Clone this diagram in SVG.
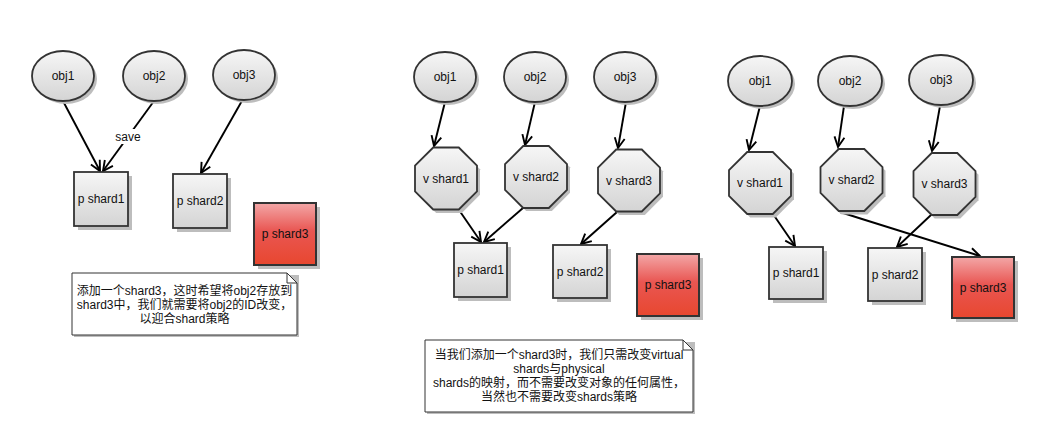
<svg xmlns="http://www.w3.org/2000/svg" width="1063" height="440" viewBox="0 0 1063 440">
<defs>
<linearGradient id="gg" x1="0" y1="0" x2="0" y2="1"><stop offset="0" stop-color="#f6f6f6"/><stop offset="1" stop-color="#d4d4d4"/></linearGradient>
<linearGradient id="rg" x1="0" y1="0" x2="0" y2="1"><stop offset="0" stop-color="#f3a7a7"/><stop offset="0.45" stop-color="#e95652"/><stop offset="1" stop-color="#e8472f"/></linearGradient>
<marker id="ar" viewBox="-11 -7 13 14" markerWidth="13" markerHeight="14" refX="0" refY="0" orient="auto" markerUnits="userSpaceOnUse"><path d="M-10,-5 L0,0 L-10,5" fill="none" stroke="#000" stroke-width="1.9"/></marker>
<polygon id="oct" points="-12.8,-31 12.8,-31 31,-12.8 31,12.8 12.8,31 -12.8,31 -31,12.8 -31,-12.8"/>
</defs>
<style>
.n{fill:url(#gg);stroke:#333;stroke-width:1.8}
.r{fill:url(#rg);stroke:#333;stroke-width:2}
.sh{fill:#bdbdbd;stroke:none}
.t{font-family:"Liberation Sans","Noto Sans CJK SC",sans-serif;font-size:12px;fill:#111;text-anchor:middle}
.e{fill:none;stroke:#000;stroke-width:1.9;marker-end:url(#ar)}
.note{fill:#fff;stroke:#333;stroke-width:1}
</style>
<rect width="1063" height="440" fill="#fff"/>

<g id="connectors">
<line class="e" x1="63" y1="101" x2="100" y2="171"/>
<line class="e" x1="154" y1="101" x2="103" y2="171"/>
<line class="e" x1="243" y1="99" x2="201" y2="173"/>
<line class="e" x1="445" y1="102" x2="434" y2="146"/>
<line class="e" x1="535" y1="102" x2="525" y2="145"/>
<line class="e" x1="626" y1="102" x2="618" y2="148"/>
<line class="e" x1="459" y1="210" x2="481" y2="242"/>
<line class="e" x1="523" y1="208" x2="484" y2="242"/>
<line class="e" x1="617" y1="212" x2="581" y2="244"/>
<line class="e" x1="760" y1="106" x2="749" y2="150"/>
<line class="e" x1="844" y1="106" x2="838" y2="147"/>
<line class="e" x1="940" y1="106" x2="932" y2="151"/>
<line class="e" x1="773" y1="214" x2="795" y2="246"/>
<polyline class="e" points="840,212 862,219 980,256"/>
<line class="e" x1="931" y1="215" x2="897" y2="247"/>
<rect x="114" y="129" width="28" height="15" fill="#fff"/>
<text class="t" x="128" y="141">save</text>
</g>

<g id="l-obj1"><ellipse class="sh" cx="66" cy="79" rx="31" ry="25"/><ellipse class="n" cx="63" cy="76" rx="31" ry="25"/><text class="t" x="63" y="80">obj1</text></g>
<g id="l-obj2"><ellipse class="sh" cx="157" cy="79" rx="31" ry="25"/><ellipse class="n" cx="154" cy="76" rx="31" ry="25"/><text class="t" x="154" y="80">obj2</text></g>
<g id="l-obj3"><ellipse class="sh" cx="247" cy="78" rx="31" ry="25"/><ellipse class="n" cx="244" cy="75" rx="31" ry="25"/><text class="t" x="244" y="79">obj3</text></g>
<g id="l-p1"><rect class="sh" x="78" y="176" width="54" height="54"/><rect class="n" x="74" y="172" width="54" height="54"/><text class="t" x="101" y="203">p shard1</text></g>
<g id="l-p2"><rect class="sh" x="177" y="178" width="54" height="54"/><rect class="n" x="173" y="174" width="54" height="54"/><text class="t" x="200" y="205">p shard2</text></g>
<g id="l-p3"><rect class="sh" x="258" y="207" width="62" height="62"/><rect class="r" x="254" y="203" width="62" height="62"/><text class="t" x="285" y="238">p shard3</text></g>
<g id="l-note"><path class="sh" d="M74,275 H299 V337 H74 Z"/><path class="note" d="M72,273 H287 L297,283 V335 H72 Z"/><path d="M287,273 V283 H297" fill="none" stroke="#333" stroke-width="1"/>
<text class="t" x="184.5" y="295">添加一个shard3，这时希望将obj2存放到</text>
<text class="t" x="184.5" y="309">shard3中，我们就需要将obj2的ID改变，</text>
<text class="t" x="184.5" y="323">以迎合shard策略</text></g>

<g id="m-obj1"><ellipse class="sh" cx="448" cy="80" rx="31" ry="25"/><ellipse class="n" cx="445" cy="77" rx="31" ry="25"/><text class="t" x="445" y="81">obj1</text></g>
<g id="m-obj2"><ellipse class="sh" cx="538" cy="80" rx="31" ry="25"/><ellipse class="n" cx="535" cy="77" rx="31" ry="25"/><text class="t" x="535" y="81">obj2</text></g>
<g id="m-obj3"><ellipse class="sh" cx="628" cy="80" rx="31" ry="25"/><ellipse class="n" cx="625" cy="77" rx="31" ry="25"/><text class="t" x="625" y="81">obj3</text></g>
<g id="m-v1"><use href="#oct" class="sh" x="449" y="182"/><use href="#oct" class="n" x="446" y="178.5"/><text class="t" x="446" y="182.5">v shard1</text></g>
<g id="m-v2"><use href="#oct" class="sh" x="539" y="180"/><use href="#oct" class="n" x="536" y="177"/><text class="t" x="536" y="181">v shard2</text></g>
<g id="m-v3"><use href="#oct" class="sh" x="632" y="184"/><use href="#oct" class="n" x="629" y="180.5"/><text class="t" x="629" y="184.5">v shard3</text></g>
<g id="m-p1"><rect class="sh" x="458" y="247" width="53" height="54"/><rect class="n" x="454" y="243" width="53" height="54"/><text class="t" x="480.5" y="274">p shard1</text></g>
<g id="m-p2"><rect class="sh" x="557" y="249" width="54" height="53"/><rect class="n" x="553" y="245" width="54" height="53"/><text class="t" x="580" y="276">p shard2</text></g>
<g id="m-p3"><rect class="sh" x="641" y="258" width="62" height="62"/><rect class="r" x="637" y="254" width="62" height="62"/><text class="t" x="668" y="289">p shard3</text></g>
<g id="m-note"><path class="sh" d="M427,342 H695 V414 H427 Z"/><path class="note" d="M425,340 H683 L693,350 V412 H425 Z"/><path d="M683,340 V350 H693" fill="none" stroke="#333" stroke-width="1"/>
<text class="t" x="559" y="359">当我们添加一个shard3时，我们只需改变virtual</text>
<text class="t" x="559" y="373">shards与physical</text>
<text class="t" x="559" y="387">shards的映射，而不需要改变对象的任何属性，</text>
<text class="t" x="559" y="401">当然也不需要改变shards策略</text></g>

<g id="r-obj1"><ellipse class="sh" cx="763" cy="84" rx="32" ry="25"/><ellipse class="n" cx="760" cy="81" rx="32" ry="25"/><text class="t" x="760" y="85">obj1</text></g>
<g id="r-obj2"><ellipse class="sh" cx="853" cy="84" rx="32" ry="25"/><ellipse class="n" cx="850" cy="81" rx="32" ry="25"/><text class="t" x="850" y="85">obj2</text></g>
<g id="r-obj3"><ellipse class="sh" cx="944" cy="83" rx="32" ry="25"/><ellipse class="n" cx="941" cy="80" rx="32" ry="25"/><text class="t" x="941" y="84">obj3</text></g>
<g id="r-v1"><use href="#oct" class="sh" x="763" y="186.5"/><use href="#oct" class="n" x="760" y="183"/><text class="t" x="760" y="187">v shard1</text></g>
<g id="r-v2"><use href="#oct" class="sh" x="854.5" y="183.5"/><use href="#oct" class="n" x="851.5" y="180"/><text class="t" x="851.5" y="184">v shard2</text></g>
<g id="r-v3"><use href="#oct" class="sh" x="947.5" y="187.5"/><use href="#oct" class="n" x="944.5" y="184"/><text class="t" x="944.5" y="188">v shard3</text></g>
<g id="r-p1"><rect class="sh" x="773" y="251" width="54" height="52"/><rect class="n" x="769" y="247" width="54" height="52"/><text class="t" x="796" y="277">p shard1</text></g>
<g id="r-p2"><rect class="sh" x="872" y="252" width="54" height="53"/><rect class="n" x="868" y="248" width="54" height="53"/><text class="t" x="895" y="279">p shard2</text></g>
<g id="r-p3"><rect class="sh" x="956" y="261" width="62" height="61"/><rect class="r" x="952" y="257" width="62" height="61"/><text class="t" x="983" y="292">p shard3</text></g>
</svg>
